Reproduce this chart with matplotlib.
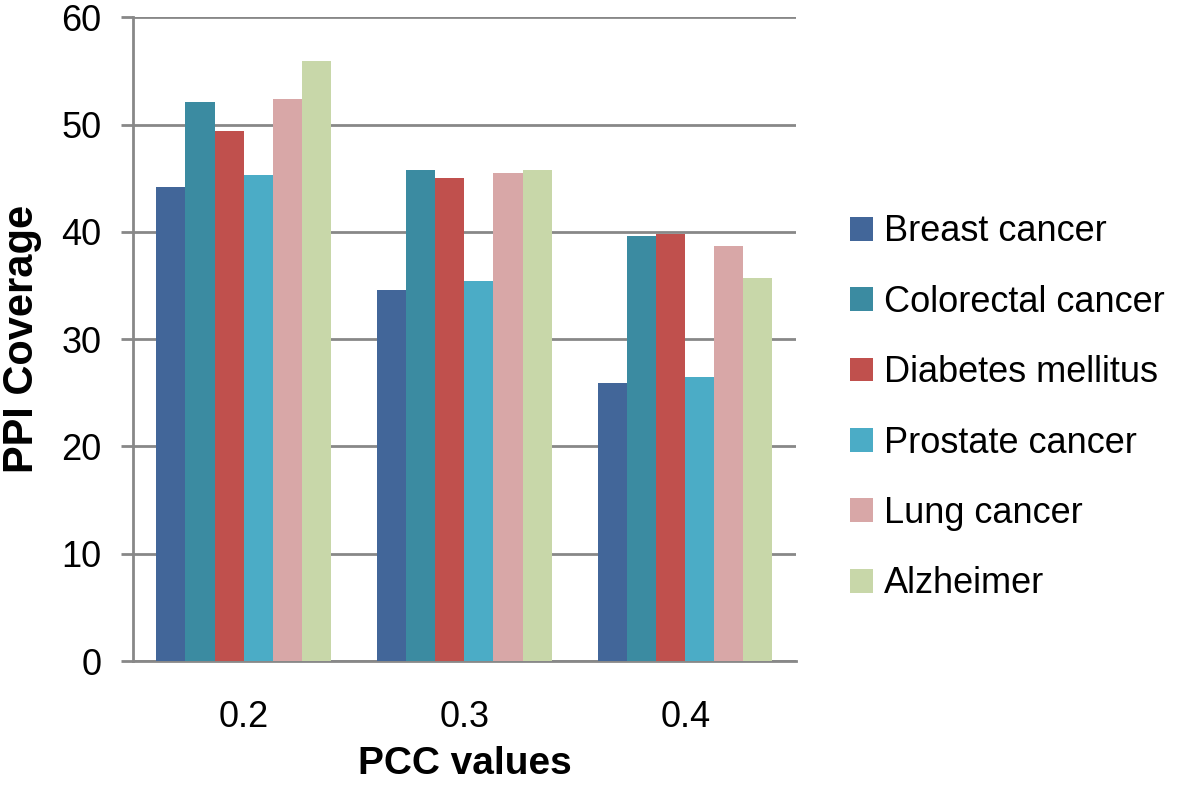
import numpy as np
import matplotlib
matplotlib.use('Agg')
import matplotlib.pyplot as plt

plt.rcParams['font.family'] = ['Liberation Sans', 'DejaVu Sans']

# data
pcc_values = ['0.2', '0.3', '0.4']
diseases = ['Breast cancer', 'Colorectal cancer', 'Diabetes mellitus',
            'Prostate cancer', 'Lung cancer', 'Alzheimer']
breast = [44.2, 34.6, 25.9]
colorectal = [52.1, 45.8, 39.6]
diabetes = [49.4, 45.0, 39.8]
prostate = [45.3, 35.4, 26.5]
lung = [52.4, 45.5, 38.7]
alzheimer = [55.9, 45.8, 35.7]

series = [breast, colorectal, diabetes, prostate, lung, alzheimer]
colors = ['#426699', '#3B8BA1', '#C0504D', '#4BACC6', '#D8A7A7', '#C8D7A9']

fig = plt.figure(figsize=(12, 7.86), dpi=100)
ax = fig.add_axes([0.111, 0.159, 0.552, 0.819])

x = np.arange(len(pcc_values))
n = len(series)
bw = 0.79 / n
for i, (vals, c, name) in enumerate(zip(series, colors, diseases)):
    ax.bar(x - 0.395 + bw * (i + 0.5), vals, bw, color=c, label=name, zorder=3)

ax.set_xlim(-0.5, 2.5)
ax.set_ylim(0, 60)
ax.set_yticks(range(0, 61, 10))
ax.set_xticks(x)
ax.set_xticklabels(pcc_values)
ax.yaxis.grid(True, color='#888888', linewidth=2, zorder=0)

for s in ['top', 'right']:
    ax.spines[s].set_visible(False)
ax.spines['left'].set_color('#888888')
ax.spines['left'].set_linewidth(2)
ax.spines['bottom'].set_color('#888888')
ax.spines['bottom'].set_linewidth(2)
ax.tick_params(axis='y', length=9, width=2, color='#888888', labelsize=26, pad=14)
ax.tick_params(axis='x', length=0, labelsize=26, pad=28)

ax.set_ylabel('PPI Coverage', fontsize=30, fontweight='bold', labelpad=14)
ax.set_xlabel('PCC values', fontsize=28, fontweight='bold', labelpad=8)

fig.legend(loc='center left', bbox_to_anchor=(0.681, 0.481), frameon=False,
           fontsize=26, handlelength=0.64, handleheight=0.64, handletextpad=0.3,
           labelspacing=0.98)

fig.savefig('out.png', dpi=100)
